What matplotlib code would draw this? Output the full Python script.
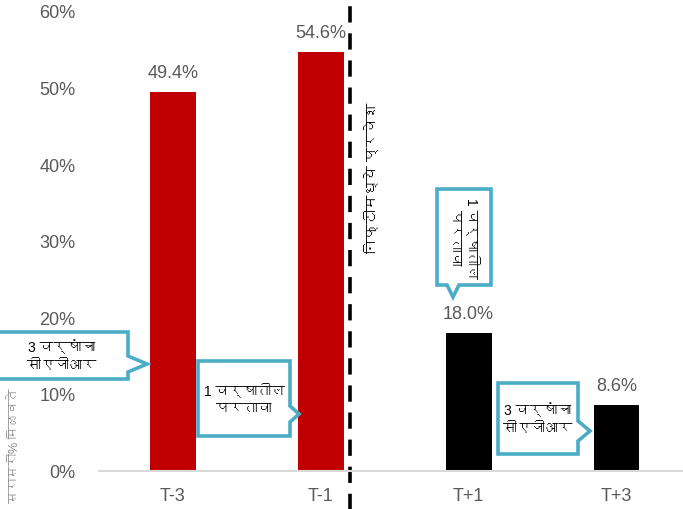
import matplotlib

matplotlib.use("Agg")
import matplotlib.pyplot as plt
from matplotlib import font_manager
from matplotlib.ft2font import FT2Font
from matplotlib.patches import Polygon
from matplotlib.ticker import FuncFormatter


periods = ["T-3", "T-1", "T+1", "T+3"]
avg_returns = [49.4, 54.6, 18.0, 8.6]
bar_colors = ["#c00000", "#c00000", "#000000", "#000000"]
y_ticks = [0, 10, 20, 30, 40, 50, 60]

y_label = "सरासरी% मिळवते"
entry_label = "निफ्टीमध्ये प्रवेश"
cagr_label = "3 वर्षांचा\nसीएजीआर"
one_year_label = "1 वर्षातील\nपरतावा"

TEAL = "#4bacc6"
GREY = "#595959"
W, H = 683, 510


def devanagari_family():
    # first installed family that actually has Devanagari glyphs
    for entry in font_manager.fontManager.ttflist:
        try:
            if 0x0915 in FT2Font(entry.fname).get_charmap():
                return entry.name
        except Exception:
            continue
    return None


deva = devanagari_family()
families = ["Liberation Sans"] + ([deva] if deva else []) + ["DejaVu Sans"]
plt.rcParams["font.family"] = families


def px(x, y):
    return x / W, 1 - y / H


def callout(fig, box, tip, side, text, base=8, rotation=0, size=10):
    x0, y0, x1, y1 = box
    tx, ty = tip
    if side == "right":
        pts = [(x0, y0), (x1, y0), (x1, ty - base), (tx, ty), (x1, ty + base), (x1, y1), (x0, y1)]
    else:
        pts = [(x0, y0), (x1, y0), (x1, y1), (tx + base, y1), (tx, ty), (tx - base, y1), (x0, y1)]
    fig.add_artist(Polygon([px(*p) for p in pts], closed=True, transform=fig.transFigure,
                           facecolor="white", edgecolor=TEAL, linewidth=2.6, joinstyle="miter"))
    cx, cy = px((x0 + x1) / 2, (y0 + y1) / 2)
    fig.text(cx, cy, text, ha="center", va="center", ma="center", rotation=rotation,
             fontsize=size, color="black", linespacing=1.3)


fig = plt.figure(figsize=(W / 100, H / 100), dpi=100)
ax = fig.add_axes([99 / W, (H - 471.5) / H, 584 / W, (471.5 - 12) / H])

x = range(len(periods))
bars = ax.bar(x, avg_returns, width=0.31, color=bar_colors)
for rect, val in zip(bars, avg_returns):
    ax.annotate(f"{val:.1f}%", xy=(rect.get_x() + rect.get_width() / 2, val),
                xytext=(0, 8), textcoords="offset points", ha="center", va="bottom",
                fontsize=13, color=GREY)

ax.set_xlim(-0.5, 3.45)
ax.set_ylim(0, 60)
ax.set_yticks(y_ticks)
ax.yaxis.set_major_formatter(FuncFormatter(lambda v, _: f"{v:.0f}%"))
ax.set_xticks(list(x))
ax.set_xticklabels(periods)
ax.tick_params(axis="both", length=0, labelsize=13, labelcolor=GREY)
ax.tick_params(axis="y", pad=17)
ax.tick_params(axis="x", pad=12)
for side in ["top", "right", "left"]:
    ax.spines[side].set_visible(False)
ax.spines["bottom"].set_color("#d9d9d9")
ax.spines["bottom"].set_linewidth(1.5)

# index entry marker between T-1 and T+1
ax.axvline(1.2, ymin=-0.1, ymax=1.05, color="black", linewidth=2.6,
           linestyle=(0, (4.5, 3)), clip_on=False)
fig.text(*px(372, 178), entry_label, rotation=90, ha="center", va="center",
         fontsize=10.5, color="black")

fig.text(*px(15, 446), y_label, rotation=90, ha="center", va="center",
         fontsize=9, color="#8c8c8c")

callout(fig, (-5, 333, 128, 380), (147, 365), "right", cagr_label)
callout(fig, (198, 362, 290, 437), (299, 415), "right", one_year_label)
callout(fig, (437, 190, 491, 286), (453, 298), "bottom", one_year_label, base=6, rotation=-90)
callout(fig, (498, 384, 578, 455), (590, 432), "right", cagr_label, base=10)

fig.savefig("out.png", dpi=100)
